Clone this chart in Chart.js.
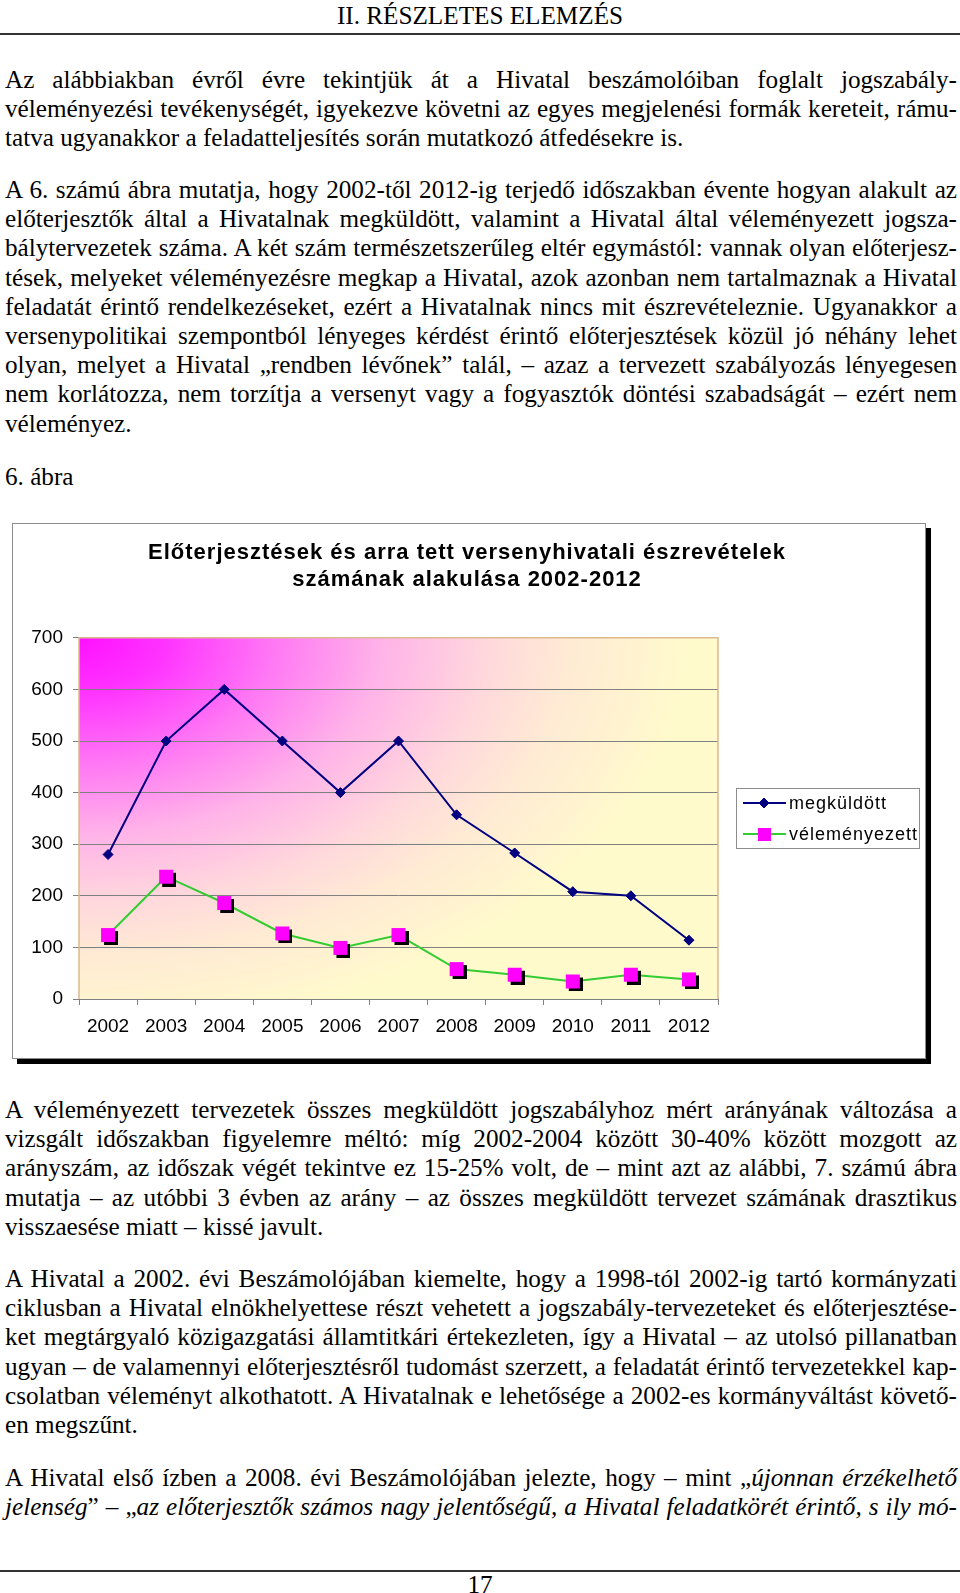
<!DOCTYPE html>
<html lang="hu">
<head>
<meta charset="utf-8">
<title>6. ábra</title>
<script src="https://cdn.jsdelivr.net/npm/chart.js@4.4.1/dist/chart.umd.min.js"></script>
<style>
  html, body { margin: 0; padding: 0; background: #fff; }
  body { position: relative; width: 960px; height: 1593px; overflow: hidden;
         font-family: "Liberation Serif", "Times New Roman", serif; font-size: 25.2px; color: #000; }
  .fej { position: absolute; left: 0; top: 1px; width: 960px; text-align: center; line-height: 29.2px; }
  .vonal { position: absolute; left: 0; width: 960px; height: 2px; background: #333; }
  .bek { position: absolute; left: 5px; width: 952px; line-height: 29.2px; }
  .bek div { white-space: nowrap; text-align: justify; text-align-last: justify; }
  .bek div.utolso { text-align-last: left; }
  .keret { position: absolute; left: 12px; top: 523px; width: 912px; height: 534px;
           border: 1px solid #8c8c8c; background: #fff; box-shadow: 5px 5px 0 #000; }
  .keret canvas { display: block; }
</style>
</head>
<body>

<div class="fej">II. RÉSZLETES ELEMZÉS</div>
<div class="vonal" style="top:33px"></div>

<div class="bek" style="top:65px">
  <div>Az alábbiakban évről évre tekintjük át a Hivatal beszámolóiban foglalt jogszabály-</div>
  <div>véleményezési tevékenységét, igyekezve követni az egyes megjelenési formák kereteit, rámu-</div>
  <div class="utolso">tatva ugyanakkor a feladatteljesítés során mutatkozó átfedésekre is.</div>
</div>

<div class="bek" style="top:175px">
  <div>A 6. számú ábra mutatja, hogy 2002-től 2012-ig terjedő időszakban évente hogyan alakult az</div>
  <div>előterjesztők által a Hivatalnak megküldött, valamint a Hivatal által véleményezett jogsza-</div>
  <div>bálytervezetek száma. A két szám természetszerűleg eltér egymástól: vannak olyan előterjesz-</div>
  <div>tések, melyeket véleményezésre megkap a Hivatal, azok azonban nem tartalmaznak a Hivatal</div>
  <div>feladatát érintő rendelkezéseket, ezért a Hivatalnak nincs mit észrevételeznie. Ugyanakkor a</div>
  <div>versenypolitikai szempontból lényeges kérdést érintő előterjesztések közül jó néhány lehet</div>
  <div>olyan, melyet a Hivatal „rendben lévőnek” talál, – azaz a tervezett szabályozás lényegesen</div>
  <div>nem korlátozza, nem torzítja a versenyt vagy a fogyasztók döntési szabadságát – ezért nem</div>
  <div class="utolso">véleményez.</div>
</div>

<div class="bek" style="top:462px">
  <div class="utolso">6. ábra</div>
</div>

<div class="keret">
  <canvas id="abra6" width="912" height="534"></canvas>
</div>

<div class="bek" style="top:1095px">
  <div>A véleményezett tervezetek összes megküldött jogszabályhoz mért arányának változása a</div>
  <div>vizsgált időszakban figyelemre méltó: míg 2002-2004 között 30-40% között mozgott az</div>
  <div>arányszám, az időszak végét tekintve ez 15-25% volt, de – mint azt az alábbi, 7. számú ábra</div>
  <div>mutatja – az utóbbi 3 évben az arány – az összes megküldött tervezet számának drasztikus</div>
  <div class="utolso">visszaesése miatt – kissé javult.</div>
</div>

<div class="bek" style="top:1264px">
  <div>A Hivatal a 2002. évi Beszámolójában kiemelte, hogy a 1998-tól 2002-ig tartó kormányzati</div>
  <div>ciklusban a Hivatal elnökhelyettese részt vehetett a jogszabály-tervezeteket és előterjesztése-</div>
  <div>ket megtárgyaló közigazgatási államtitkári értekezleten, így a Hivatal – az utolsó pillanatban</div>
  <div>ugyan – de valamennyi előterjesztésről tudomást szerzett, a feladatát érintő tervezetekkel kap-</div>
  <div>csolatban véleményt alkothatott. A Hivatalnak e lehetősége a 2002-es kormányváltást követő-</div>
  <div class="utolso">en megszűnt.</div>
</div>

<div class="bek" style="top:1463px">
  <div>A Hivatal első ízben a 2008. évi Beszámolójában jelezte, hogy – mint „<i>újonnan érzékelhető</i></div>
  <div><i>jelenség</i>” – „<i>az előterjesztők számos nagy jelentőségű, a Hivatal feladatkörét érintő, s ily mó-</i></div>
</div>

<div class="vonal" style="top:1570px"></div>
<div class="fej" style="top:1570px">17</div>

<script>
// adatok
const evek = ['2002', '2003', '2004', '2005', '2006', '2007', '2008', '2009', '2010', '2011', '2012'];
const megkuldott = [280, 500, 600, 500, 400, 500, 357, 283, 208, 200, 114];
const velemenyezett = [124, 237, 186, 127, 99, 124, 58, 47, 34, 47, 38];
const yMin = 0;
const yMax = 700;
const yLepes = 100;
const cim = ['Előterjesztések és arra tett versenyhivatali észrevételek', 'számának alakulása 2002-2012'];

var betu = 'Liberation Sans';

// rozsaszin negyzet fekete arnyekkal
function negyzet(meret, arnyek) {
    var c = document.createElement('canvas');
    c.width = c.height = meret + 2 * arnyek;
    var g = c.getContext('2d');
    g.fillStyle = '#000';
    g.fillRect(2 * arnyek, 2 * arnyek, meret, meret);
    g.fillStyle = '#ff00ff';
    g.fillRect(arnyek, arnyek, meret, meret);
    return c;
}

var hatter = {
    id: 'hatter',
    beforeDraw: function(chart) {
        var ctx = chart.ctx, a = chart.chartArea, sy = 0.65;
        ctx.save();
        ctx.translate(a.left, a.top);
        ctx.scale(1, sy);
        var g = ctx.createRadialGradient(0, 0, 0, 0, 0, 610);
        g.addColorStop(0, '#ff10ff');
        g.addColorStop(0.14, '#ff33ff');
        g.addColorStop(0.32, '#ff78f4');
        g.addColorStop(0.5, '#ffb4e8');
        g.addColorStop(0.67, '#ffd8dc');
        g.addColorStop(0.8, '#ffead4');
        g.addColorStop(1, '#fffacc');
        ctx.fillStyle = g;
        ctx.fillRect(0, 0, a.width, a.height / sy);
        ctx.restore();
    },
    beforeDatasetsDraw: function(chart) {
        var ctx = chart.ctx, a = chart.chartArea;
        ctx.save();
        ctx.strokeStyle = '#dcb98e';
        ctx.lineWidth = 1.5;
        ctx.beginPath();
        ctx.moveTo(a.left, a.bottom);
        ctx.lineTo(a.left, a.top);
        ctx.lineTo(a.right, a.top);
        ctx.lineTo(a.right, a.bottom);
        ctx.stroke();
        ctx.restore();
    }
};

var jelmagyarazat = {
    id: 'jelmagyarazat',
    afterDatasetsDraw: function(chart) {
        var ctx = chart.ctx, a = chart.chartArea;
        var w = 183, h = 60;
        var x = a.right + 18;
        var y = Math.round((a.top + a.bottom) / 2 - h / 2);
        ctx.save();
        ctx.fillStyle = '#fff';
        ctx.fillRect(x, y, w, h);
        ctx.strokeStyle = '#8c8c8c';
        ctx.lineWidth = 1;
        ctx.strokeRect(x + 0.5, y + 0.5, w, h);
        chart.data.datasets.forEach(function(ds, i) {
            var ry = y + 15 + i * 31;
            ctx.strokeStyle = ds.borderColor;
            ctx.lineWidth = 2;
            ctx.beginPath();
            ctx.moveTo(x + 7, ry);
            ctx.lineTo(x + 50, ry);
            ctx.stroke();
            if (typeof ds.pointStyle === 'string') {
                ctx.fillStyle = ds.backgroundColor;
                ctx.strokeStyle = ds.borderColor;
                ctx.lineWidth = 1;
                Chart.helpers.drawPoint(ctx, { pointStyle: ds.pointStyle, radius: ds.pointRadius, borderWidth: 1 }, x + 28, ry);
            } else {
                ctx.fillStyle = ds.backgroundColor;
                ctx.fillRect(x + 22, ry - 6, 13, 13);
            }
            ctx.fillStyle = '#000';
            ctx.font = '18px "' + betu + '"';
            ctx.letterSpacing = '1px';
            ctx.textBaseline = 'middle';
            ctx.textAlign = 'left';
            ctx.fillText(ds.label, x + 53, ry + 1);
        });
        ctx.restore();
    }
};

// a cim betukozzel, a teljes keret kozepere
var betukoz = {
    id: 'betukoz',
    afterInit: function(chart) {
        var tb = chart.titleBlock;
        var rajz = tb.draw.bind(tb);
        tb.draw = function() {
            var ctx = chart.ctx;
            ctx.save();
            ctx.letterSpacing = '1px';
            ctx.translate(chart.width / 2 - 2 - (tb.left + tb.right) / 2, 0);
            rajz();
            ctx.restore();
        };
    }
};

var abra = new Chart(document.getElementById('abra6').getContext('2d'), {
    type: 'line',
    data: {
        labels: evek,
        datasets: [{
            label: 'megküldött',
            data: megkuldott,
            borderColor: '#000080',
            backgroundColor: '#000080',
            borderWidth: 2,
            pointStyle: 'rectRot',
            pointRadius: 5,
            pointBorderWidth: 1,
            tension: 0
        }, {
            label: 'véleményezett',
            data: velemenyezett,
            borderColor: '#33cc33',
            backgroundColor: '#ff00ff',
            borderWidth: 2,
            pointStyle: negyzet(14, 3),
            pointRadius: 8,
            tension: 0
        }]
    },
    options: {
        responsive: false,
        animation: false,
        layout: {
            padding: { left: 0, right: 207, top: 0, bottom: 18 }
        },
        plugins: {
            legend: { display: false },
            tooltip: { enabled: false },
            title: {
                display: true,
                text: cim,
                color: '#000',
                font: { family: betu, size: 22, weight: 'bold', lineHeight: 1.2 },
                padding: { top: 16, bottom: 45 }
            }
        },
        scales: {
            x: {
                offset: true,
                grid: { offset: true, drawOnChartArea: false, tickLength: 6, color: '#808080' },
                border: { color: '#808080', width: 1 },
                ticks: { color: '#000', font: { family: betu, size: 19 }, padding: 10, maxRotation: 0, autoSkip: false },
                afterFit: function(s) { s.height = 41; }
            },
            y: {
                min: yMin,
                max: yMax,
                ticks: { stepSize: yLepes, color: '#000', font: { family: betu, size: 19 }, padding: 10 },
                grid: {
                    color: function(c) { return c.tick && c.tick.value === yMax ? 'rgba(0,0,0,0)' : '#808080'; },
                    tickColor: '#808080',
                    tickLength: 6
                },
                border: { display: false },
                afterFit: function(s) { s.width = 66; }
            }
        }
    },
    plugins: [hatter, jelmagyarazat, betukoz]
});
</script>
</body>
</html>
